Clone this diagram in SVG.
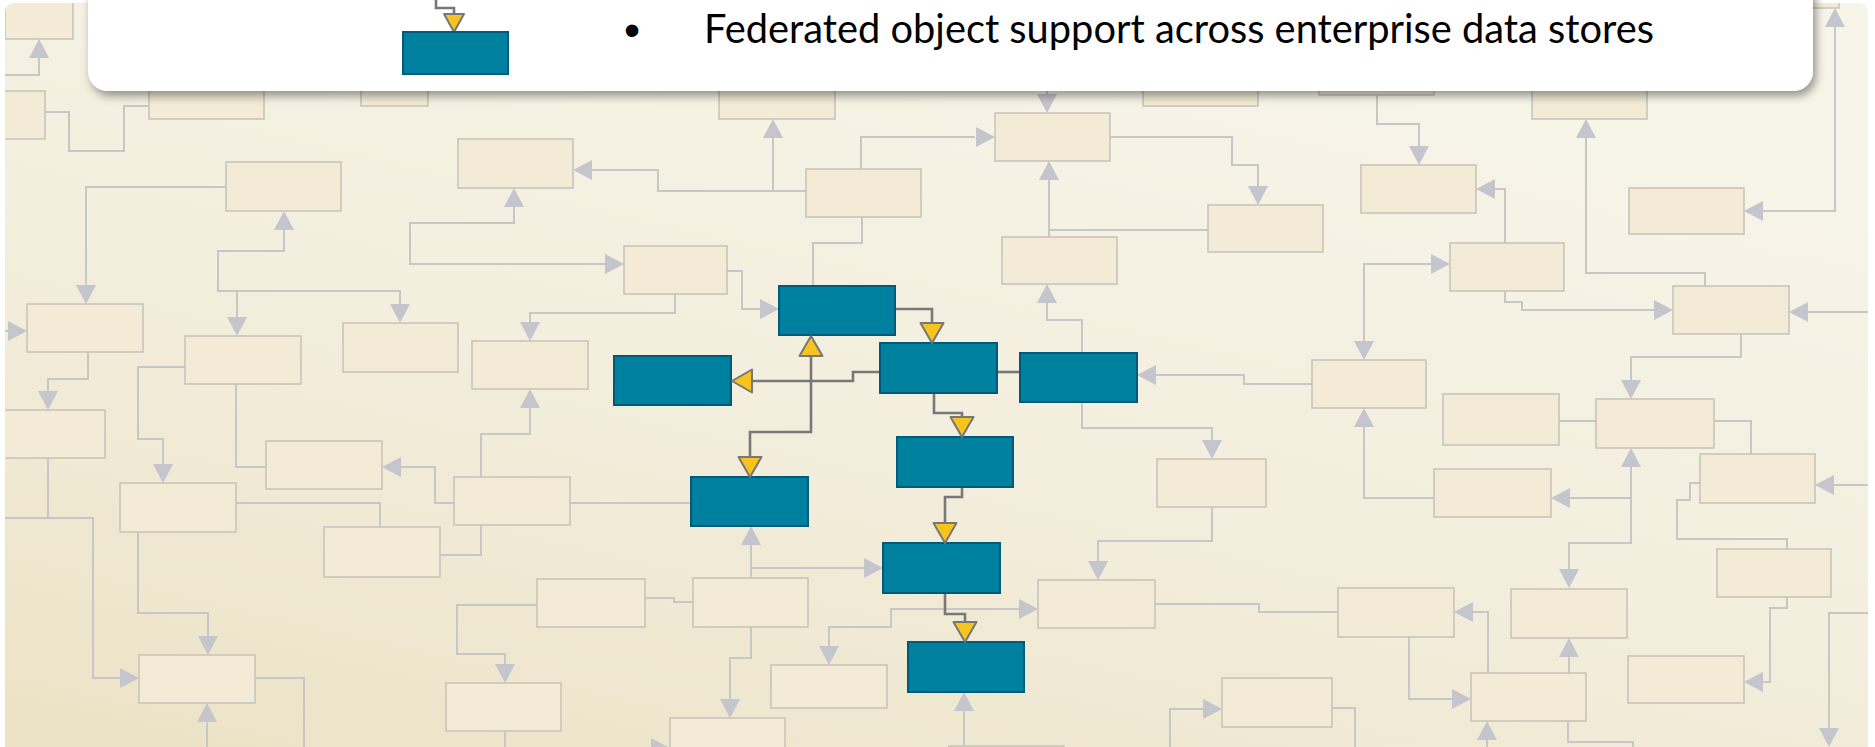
<svg xmlns="http://www.w3.org/2000/svg" xmlns:xlink="http://www.w3.org/1999/xlink" width="1875" height="747" viewBox="0 0 1875 747">
<defs>
<linearGradient id="bg" x1="0" y1="1" x2="0.55" y2="0">
<stop offset="0" stop-color="#ebe1c3"/>
<stop offset="0.55" stop-color="#f3eedd"/>
<stop offset="1" stop-color="#f7f4e8"/>
</linearGradient>
<clipPath id="panel"><rect x="5" y="3" width="1863" height="780" rx="9"/></clipPath>
<filter id="sh" x="-5%" y="-50%" width="110%" height="200%">
<feDropShadow dx="3" dy="5" stdDeviation="5" flood-color="#000" flood-opacity="0.4"/>
</filter>
<path id="gd" d="M0,0 L-10,-19 L10,-19 Z"/>
<path id="gu" d="M0,0 L-10,19 L10,19 Z"/>
<path id="gl" d="M0,0 L19,-10 L19,10 Z"/>
<path id="gr" d="M0,0 L-19,-10 L-19,10 Z"/>
<path id="yd" d="M0,0 L-11.5,-20 L11.5,-20 Z"/>
<path id="yu" d="M0,0 L-11.5,20 L11.5,20 Z"/>
<path id="yl" d="M0,0 L20,-11.5 L20,11.5 Z"/>
<path id="ys" d="M0,0 L-10,-18 L10,-18 Z"/>
</defs>
<style>
.bx{fill:#f3ebd5;stroke:#c9c5bb;stroke-width:1.6}
.bl{fill:#00809f;stroke:#005a7a;stroke-width:2}
.ln{fill:none;stroke:#c7c7c7;stroke-width:2}
.dk{fill:none;stroke:#787878;stroke-width:2.6}
.ga{fill:#c4c5cd}
.ya{fill:#f7c31d;stroke:#777;stroke-width:2;stroke-linejoin:round}
.tx{font-family:Lato,"Open Sans","Noto Sans",sans-serif;font-size:40px;fill:#000}
</style>
<rect x="0" y="0" width="1875" height="747" fill="#ffffff"/>
<g clip-path="url(#panel)">
<rect x="0" y="0" width="1875" height="790" fill="url(#bg)"/>

<g id="connectors">
<polyline class="ln" points="39,57 39,75 5,75"/>
<polyline class="ln" points="45,112 69,112 69,151 124,151 124,106 149,106"/>
<polyline class="ln" points="226,187 86,187 86,285"/>
<polyline class="ln" points="284,229 284,251 218,251 218,291 400,291 400,304"/>
<polyline class="ln" points="237,291 237,318"/>
<polyline class="ln" points="514,206 514,223 410,223 410,264 606,264"/>
<polyline class="ln" points="592,170 658,170 658,191 806,191"/>
<polyline class="ln" points="773,191 773,137"/>
<polyline class="ln" points="861,169 861,137 975,137"/>
<polyline class="ln" points="1047,60 1047,95"/>
<polyline class="ln" points="1049,179 1049,237"/>
<polyline class="ln" points="1049,230 1208,230"/>
<polyline class="ln" points="1110,137 1232,137 1232,165 1258,165 1258,187"/>
<polyline class="ln" points="1377,95 1377,124 1419,124 1419,147"/>
<polyline class="ln" points="1495,189 1505,189 1505,243"/>
<polyline class="ln" points="1586,137 1586,273 1705,273 1705,286"/>
<polyline class="ln" points="1763,211 1835,211 1835,26"/>
<polyline class="ln" points="1432,264 1364,264 1364,342"/>
<polyline class="ln" points="1505,291 1505,302 1522,302 1522,310 1655,310"/>
<polyline class="ln" points="1808,312 1870,312"/>
<polyline class="ln" points="1741,334 1741,357 1631,357 1631,380"/>
<polyline class="ln" points="1559,421 1596,421"/>
<polyline class="ln" points="1714,421 1751,421 1751,454"/>
<polyline class="ln" points="1834,485 1870,485"/>
<polyline class="ln" points="1631,466 1631,543 1569,543 1569,569"/>
<polyline class="ln" points="1631,498 1570,498"/>
<polyline class="ln" points="1364,426 1364,498 1434,498"/>
<polyline class="ln" points="1156,375 1244,375 1244,384 1312,384"/>
<polyline class="ln" points="1082,353 1082,320 1047,320 1047,302"/>
<polyline class="ln" points="1082,402 1082,428 1212,428 1212,441"/>
<polyline class="ln" points="1212,507 1212,541 1098,541 1098,562"/>
<polyline class="ln" points="1020,609 891,609 891,627 829,627 829,647"/>
<polyline class="ln" points="1155,604 1259,604 1259,612 1338,612"/>
<polyline class="ln" points="1473,612 1488,612 1488,673"/>
<polyline class="ln" points="1409,637 1409,699 1453,699"/>
<polyline class="ln" points="1569,673 1569,656"/>
<polyline class="ln" points="1487,739 1487,760"/>
<polyline class="ln" points="1568,721 1568,742 1633,742 1633,760"/>
<polyline class="ln" points="1700,483 1690,483 1690,500 1677,500 1677,539 1787,539 1787,549"/>
<polyline class="ln" points="1787,597 1787,608 1770,608 1770,682 1762,682"/>
<polyline class="ln" points="1870,613 1829,613 1829,729"/>
<polyline class="ln" points="1204,709 1170,709 1170,760"/>
<polyline class="ln" points="1332,708 1355,708 1355,760"/>
<polyline class="ln" points="964,710 964,746"/>
<polyline class="ln" points="751,544 751,578"/>
<polyline class="ln" points="751,568 865,568"/>
<polyline class="ln" points="693,602 674,602 674,598 645,598"/>
<polyline class="ln" points="751,627 751,658 730,658 730,700"/>
<polyline class="ln" points="651,748 625,748"/>
<polyline class="ln" points="537,605 457,605 457,654 505,654 505,665"/>
<polyline class="ln" points="505,731 505,760"/>
<polyline class="ln" points="440,555 481,555 481,525"/>
<polyline class="ln" points="236,503 380,503 380,527"/>
<polyline class="ln" points="570,503 691,503"/>
<polyline class="ln" points="481,477 481,434 530,434 530,407"/>
<polyline class="ln" points="530,323 530,313 675,313 675,294"/>
<polyline class="ln" points="727,271 742,271 742,309 760,309"/>
<polyline class="ln" points="862,217 862,243 813,243 813,286"/>
<polyline class="ln" points="400,467 435,467 435,503 454,503"/>
<polyline class="ln" points="236,384 236,467 266,467"/>
<polyline class="ln" points="185,367 138,367 138,439 163,439 163,465"/>
<polyline class="ln" points="138,532 138,613 208,613 208,637"/>
<polyline class="ln" points="48,458 48,518"/>
<polyline class="ln" points="5,518 93,518 93,678 121,678"/>
<polyline class="ln" points="207,721 207,760"/>
<polyline class="ln" points="255,678 304,678 304,760"/>
<polyline class="ln" points="88,352 88,379 48,379 48,391"/>
<polyline class="ln" points="5,331 9,331"/>

<use href="#gu" x="39" y="39" class="ga"/>
<use href="#gd" x="86" y="304" class="ga"/>
<use href="#gu" x="284" y="211" class="ga"/>
<use href="#gd" x="400" y="323" class="ga"/>
<use href="#gd" x="237" y="336" class="ga"/>
<use href="#gu" x="514" y="188" class="ga"/>
<use href="#gr" x="624" y="264" class="ga"/>
<use href="#gl" x="573" y="170" class="ga"/>
<use href="#gu" x="773" y="119" class="ga"/>
<use href="#gr" x="995" y="137" class="ga"/>
<use href="#gd" x="1047" y="113" class="ga"/>
<use href="#gu" x="1049" y="161" class="ga"/>
<use href="#gd" x="1258" y="205" class="ga"/>
<use href="#gd" x="1419" y="165" class="ga"/>
<use href="#gl" x="1476" y="189" class="ga"/>
<use href="#gu" x="1586" y="119" class="ga"/>
<use href="#gl" x="1744" y="211" class="ga"/>
<use href="#gu" x="1835" y="8" class="ga"/>
<use href="#gr" x="1450" y="264" class="ga"/>
<use href="#gd" x="1364" y="360" class="ga"/>
<use href="#gr" x="1673" y="310" class="ga"/>
<use href="#gl" x="1789" y="312" class="ga"/>
<use href="#gd" x="1631" y="399" class="ga"/>
<use href="#gl" x="1815" y="485" class="ga"/>
<use href="#gu" x="1631" y="448" class="ga"/>
<use href="#gd" x="1569" y="588" class="ga"/>
<use href="#gl" x="1551" y="498" class="ga"/>
<use href="#gu" x="1364" y="408" class="ga"/>
<use href="#gl" x="1137" y="375" class="ga"/>
<use href="#gu" x="1047" y="284" class="ga"/>
<use href="#gd" x="1212" y="459" class="ga"/>
<use href="#gd" x="1098" y="580" class="ga"/>
<use href="#gr" x="1038" y="609" class="ga"/>
<use href="#gd" x="829" y="665" class="ga"/>
<use href="#gl" x="1454" y="612" class="ga"/>
<use href="#gr" x="1471" y="699" class="ga"/>
<use href="#gu" x="1569" y="638" class="ga"/>
<use href="#gu" x="1487" y="721" class="ga"/>
<use href="#gl" x="1744" y="682" class="ga"/>
<use href="#gd" x="1829" y="747" class="ga"/>
<use href="#gr" x="1222" y="709" class="ga"/>
<use href="#gu" x="964" y="692" class="ga"/>
<use href="#gu" x="751" y="526" class="ga"/>
<use href="#gr" x="883" y="568" class="ga"/>
<use href="#gd" x="730" y="718" class="ga"/>
<use href="#gr" x="670" y="748" class="ga"/>
<use href="#gd" x="505" y="683" class="ga"/>
<use href="#gu" x="530" y="389" class="ga"/>
<use href="#gd" x="530" y="341" class="ga"/>
<use href="#gr" x="779" y="309" class="ga"/>
<use href="#gl" x="382" y="467" class="ga"/>
<use href="#gd" x="163" y="483" class="ga"/>
<use href="#gd" x="208" y="655" class="ga"/>
<use href="#gr" x="139" y="678" class="ga"/>
<use href="#gu" x="207" y="703" class="ga"/>
<use href="#gd" x="48" y="410" class="ga"/>
<use href="#gr" x="27" y="331" class="ga"/>

<polyline class="dk" points="895,309 932,309 932,324"/>
<polyline class="dk" points="880,372 853,372 853,381 752,381"/>
<polyline class="dk" points="811,356 811,432 750,432 750,457"/>
<polyline class="dk" points="997,372 1020,372"/>
<polyline class="dk" points="934,393 934,413 962,413 962,417"/>
<polyline class="dk" points="962,487 962,497 945,497 945,523"/>
<polyline class="dk" points="945,593 945,614 965,614 965,622"/>
</g>

<g id="nA"><rect class="bx" x="5" y="-10" width="68" height="49"/></g>
<g id="nB"><rect class="bx" x="-5" y="91" width="50" height="48"/></g>
<g id="nC"><rect class="bx" x="149" y="71" width="115" height="48"/></g>
<g id="nD"><rect class="bx" x="361" y="58" width="67" height="48"/></g>
<g id="nE"><rect class="bx" x="226" y="162" width="115" height="49"/></g>
<g id="nF"><rect class="bx" x="458" y="139" width="115" height="49"/></g>
<g id="nG"><rect class="bx" x="719" y="71" width="116" height="48"/></g>
<g id="nH"><rect class="bx" x="806" y="169" width="115" height="48"/></g>
<g id="nI"><rect class="bx" x="995" y="113" width="115" height="48"/></g>
<g id="nM"><rect class="bx" x="1143" y="58" width="115" height="48"/></g>
<g id="nM2"><rect class="bx" x="1319" y="47" width="115" height="48"/></g>
<g id="nN"><rect class="bx" x="1361" y="165" width="115" height="48"/></g>
<g id="nO"><rect class="bx" x="1532" y="71" width="115" height="48"/></g>
<g id="nTR"><rect class="bx" x="1780" y="-40" width="59" height="48"/></g>
<g id="nQ"><rect class="bx" x="1629" y="188" width="115" height="46"/></g>
<g id="nJ"><rect class="bx" x="1208" y="205" width="115" height="47"/></g>
<g id="nK"><rect class="bx" x="1002" y="237" width="115" height="47"/></g>
<g id="nL"><rect class="bx" x="624" y="246" width="103" height="48"/></g>
<g id="nP"><rect class="bx" x="1450" y="243" width="114" height="48"/></g>
<g id="nR"><rect class="bx" x="27" y="304" width="116" height="48"/></g>
<g id="nS"><rect class="bx" x="-5" y="410" width="110" height="48"/></g>
<g id="nT"><rect class="bx" x="185" y="336" width="116" height="48"/></g>
<g id="nU"><rect class="bx" x="343" y="323" width="115" height="49"/></g>
<g id="nY"><rect class="bx" x="472" y="341" width="116" height="48"/></g>
<g id="nV"><rect class="bx" x="266" y="441" width="116" height="48"/></g>
<g id="nX"><rect class="bx" x="454" y="477" width="116" height="48"/></g>
<g id="nW"><rect class="bx" x="120" y="483" width="116" height="49"/></g>
<g id="nAA"><rect class="bx" x="324" y="527" width="116" height="50"/></g>
<g id="nAB"><rect class="bx" x="139" y="655" width="116" height="48"/></g>
<g id="nAC"><rect class="bx" x="537" y="579" width="108" height="48"/></g>
<g id="nAD"><rect class="bx" x="446" y="683" width="115" height="48"/></g>
<g id="nAF"><rect class="bx" x="693" y="578" width="115" height="49"/></g>
<g id="nAH"><rect class="bx" x="670" y="718" width="115" height="48"/></g>
<g id="nAJ"><rect class="bx" x="771" y="665" width="116" height="43"/></g>
<g id="nAI"><rect class="bx" x="1038" y="580" width="117" height="48"/></g>
<g id="nAG"><rect class="bx" x="949" y="746" width="115" height="48"/></g>
<g id="nAE"><rect class="bx" x="1157" y="459" width="109" height="48"/></g>
<g id="nAL"><rect class="bx" x="1312" y="360" width="114" height="48"/></g>
<g id="nAP"><rect class="bx" x="1443" y="394" width="116" height="51"/></g>
<g id="nAO"><rect class="bx" x="1596" y="399" width="118" height="49"/></g>
<g id="nAN"><rect class="bx" x="1673" y="286" width="116" height="48"/></g>
<g id="nAQ"><rect class="bx" x="1700" y="454" width="115" height="49"/></g>
<g id="nAM"><rect class="bx" x="1434" y="469" width="117" height="48"/></g>
<g id="nAS"><rect class="bx" x="1717" y="549" width="114" height="48"/></g>
<g id="nAR"><rect class="bx" x="1511" y="589" width="116" height="49"/></g>
<g id="nAU"><rect class="bx" x="1338" y="588" width="116" height="49"/></g>
<g id="nAV"><rect class="bx" x="1471" y="673" width="115" height="48"/></g>
<g id="nAT"><rect class="bx" x="1628" y="656" width="116" height="47"/></g>
<g id="nAK"><rect class="bx" x="1222" y="678" width="110" height="49"/></g>

<g id="b1"><rect class="bl" x="779" y="286" width="116" height="49"/></g>
<g id="b2"><rect class="bl" x="880" y="343" width="117" height="50"/></g>
<g id="b3"><rect class="bl" x="1020" y="353" width="117" height="49"/></g>
<g id="b4"><rect class="bl" x="614" y="356" width="117" height="49"/></g>
<g id="b5"><rect class="bl" x="691" y="477" width="117" height="49"/></g>
<g id="b6"><rect class="bl" x="897" y="437" width="116" height="50"/></g>
<g id="b7"><rect class="bl" x="883" y="543" width="117" height="50"/></g>
<g id="b8"><rect class="bl" x="908" y="642" width="116" height="50"/></g>

<g id="yellow-arrows">
<use href="#yd" x="932" y="343" class="ya"/>
<use href="#yl" x="732" y="381" class="ya"/>
<use href="#yu" x="811" y="336" class="ya"/>
<use href="#yd" x="750" y="477" class="ya"/>
<use href="#yd" x="962" y="437" class="ya"/>
<use href="#yd" x="945" y="543" class="ya"/>
<use href="#yd" x="965" y="642" class="ya"/>
</g>
</g>

<g id="card">
<rect x="88" y="-40" width="1725" height="131" rx="20" fill="#ffffff" filter="url(#sh)"/>
<polyline class="dk" points="436,0 436,8 454,8 454,14"/>
<use href="#ys" x="454" y="32" class="ya"/>
<rect class="bl" x="403" y="32" width="105" height="42"/>
<text x="632" y="46" text-anchor="middle" font-family="'Liberation Sans',Arial,sans-serif" font-size="46" fill="#000">•</text>
<text class="tx" x="704" y="43" textLength="950" lengthAdjust="spacingAndGlyphs">Federated object support across enterprise data stores</text>
</g>
</svg>
